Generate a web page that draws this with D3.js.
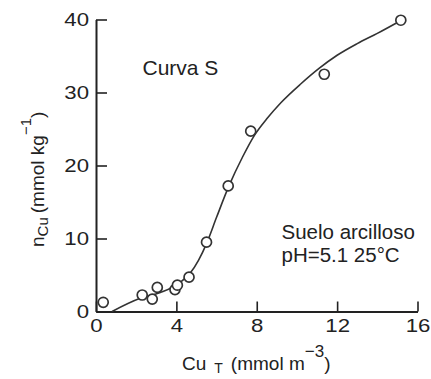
<!DOCTYPE html>
<html>
<head>
<meta charset="utf-8">
<script src="https://cdn.jsdelivr.net/npm/d3@7"></script>
<style>
  body { margin: 0; background: #fff; }
  text { font-family: "Liberation Sans", Arial, sans-serif; fill: #222; }
</style>
</head>
<body>
<div id="chart"></div>
<script>
// measured points (Cu_T, n_Cu)
var pointX = [0.36, 2.3, 2.8, 3.05, 3.93, 4.05, 4.63, 5.5, 6.58, 7.7, 11.36, 15.17];
var pointY = [1.26, 2.26, 1.7, 3.3, 3.0, 3.6, 4.7, 9.5, 17.2, 24.7, 32.5, 39.9];

// fitted S curve
var curveX = [0.8, 2.2, 3.2, 4.2, 4.7, 5.1, 5.5, 6.0, 6.6, 7.3, 7.9, 8.5, 9.2, 10.2, 11.1, 12.0, 13.0, 14.0, 15.2];
var curveY = [0, 1.8, 2.6, 4.0, 5.3, 7.0, 9.3, 12.9, 17.1, 21.2, 24.2, 26.4, 28.6, 31.2, 33.3, 35.1, 36.7, 38.1, 39.9];

var xTicks = [0, 4, 8, 12, 16];
var yTicks = [0, 10, 20, 30, 40];

var margin = {top: 19.5, right: 13.5, bottom: 67.5, left: 96},
    width = 431 - margin.left - margin.right,
    height = 379 - margin.top - margin.bottom;

var svg = d3.select("#chart")
  .append("svg")
    .attr("width", 431)
    .attr("height", 379)
  .append("g")
    .attr("transform", "translate(" + margin.left + "," + margin.top + ")");

var x = d3.scaleLinear().domain([0, 16]).range([0, width]);
var y = d3.scaleLinear().domain([0, 40]).range([height, 0]);

// stretch the tick digits a bit, the scanned figure is wider than tall
function widen(sel, k) {
  sel.each(function() {
    var w = this.getComputedTextLength();
    d3.select(this).attr("textLength", w * k).attr("lengthAdjust", "spacingAndGlyphs");
  });
}

var xAxis = svg.append("g")
  .attr("transform", "translate(0," + height + ")")
  .call(d3.axisBottom(x).tickValues(xTicks).tickSizeInner(-10).tickSizeOuter(0).tickPadding(7));

var yAxis = svg.append("g")
  .call(d3.axisLeft(y).tickValues(yTicks).tickSizeInner(-11).tickSizeOuter(0).tickPadding(7));

[xAxis, yAxis].forEach(function(a) {
  a.select(".domain").attr("stroke", "#222").attr("stroke-width", 2);
  a.selectAll(".tick line").attr("stroke", "#222").attr("stroke-width", 1.6);
  a.selectAll(".tick text")
    .attr("font-size", "18.5px")
    .attr("font-family", "'Liberation Sans', Arial, sans-serif")
    .attr("fill", "#222")
    .call(widen, 1.2);
});

// curve
var line = d3.line()
  .x(function(d) { return x(d[0]); })
  .y(function(d) { return y(d[1]); })
  .curve(d3.curveMonotoneX);

svg.append("path")
  .datum(d3.zip(curveX, curveY))
  .attr("d", line)
  .attr("fill", "none")
  .attr("stroke", "#333")
  .attr("stroke-width", 1.6);

// points
svg.append("g")
  .selectAll("circle")
  .data(d3.zip(pointX, pointY))
  .enter()
  .append("circle")
    .attr("cx", function(d) { return x(d[0]); })
    .attr("cy", function(d) { return y(d[1]); })
    .attr("r", 5)
    .attr("fill", "#fff")
    .attr("stroke", "#333")
    .attr("stroke-width", 1.7);

// annotations
svg.append("text")
  .attr("x", 46.5)
  .attr("y", 55.5)
  .attr("font-size", "21px")
  .text("Curva S");

svg.append("text")
  .attr("x", 185.5)
  .attr("y", 219.8)
  .attr("font-size", "20.5px")
  .text("Suelo arcilloso");

svg.append("text")
  .attr("x", 185.5)
  .attr("y", 242.2)
  .attr("font-size", "20.5px")
  .text("pH=5.1 25°C");

// x axis title
var xt = svg.append("text")
  .attr("x", 86)
  .attr("y", height + 58.5)
  .attr("font-size", "19px");
xt.append("tspan").text("Cu");
xt.append("tspan").attr("dx", 8).attr("dy", 3).attr("font-size", "14px").text("T");
xt.append("tspan").attr("dx", 8).attr("dy", -3).text("(mmol m");
xt.append("tspan").attr("dy", -13).attr("font-size", "17px").text("\u22123");
xt.append("tspan").attr("dy", 13).text(")");

// y axis title
var yt = svg.append("text")
  .attr("transform", "translate(-52.5,227.5) rotate(-90)")
  .attr("font-size", "19px");
yt.append("tspan").text("n");
yt.append("tspan").attr("dy", 4.5).attr("font-size", "15px").text("Cu");
yt.append("tspan").attr("dx", 4).attr("dy", -4.5).text("(mmol kg");
yt.append("tspan").attr("dy", -13).attr("font-size", "15px").text("\u22121");
yt.append("tspan").attr("dy", 13).text(")");
</script>
</body>
</html>
